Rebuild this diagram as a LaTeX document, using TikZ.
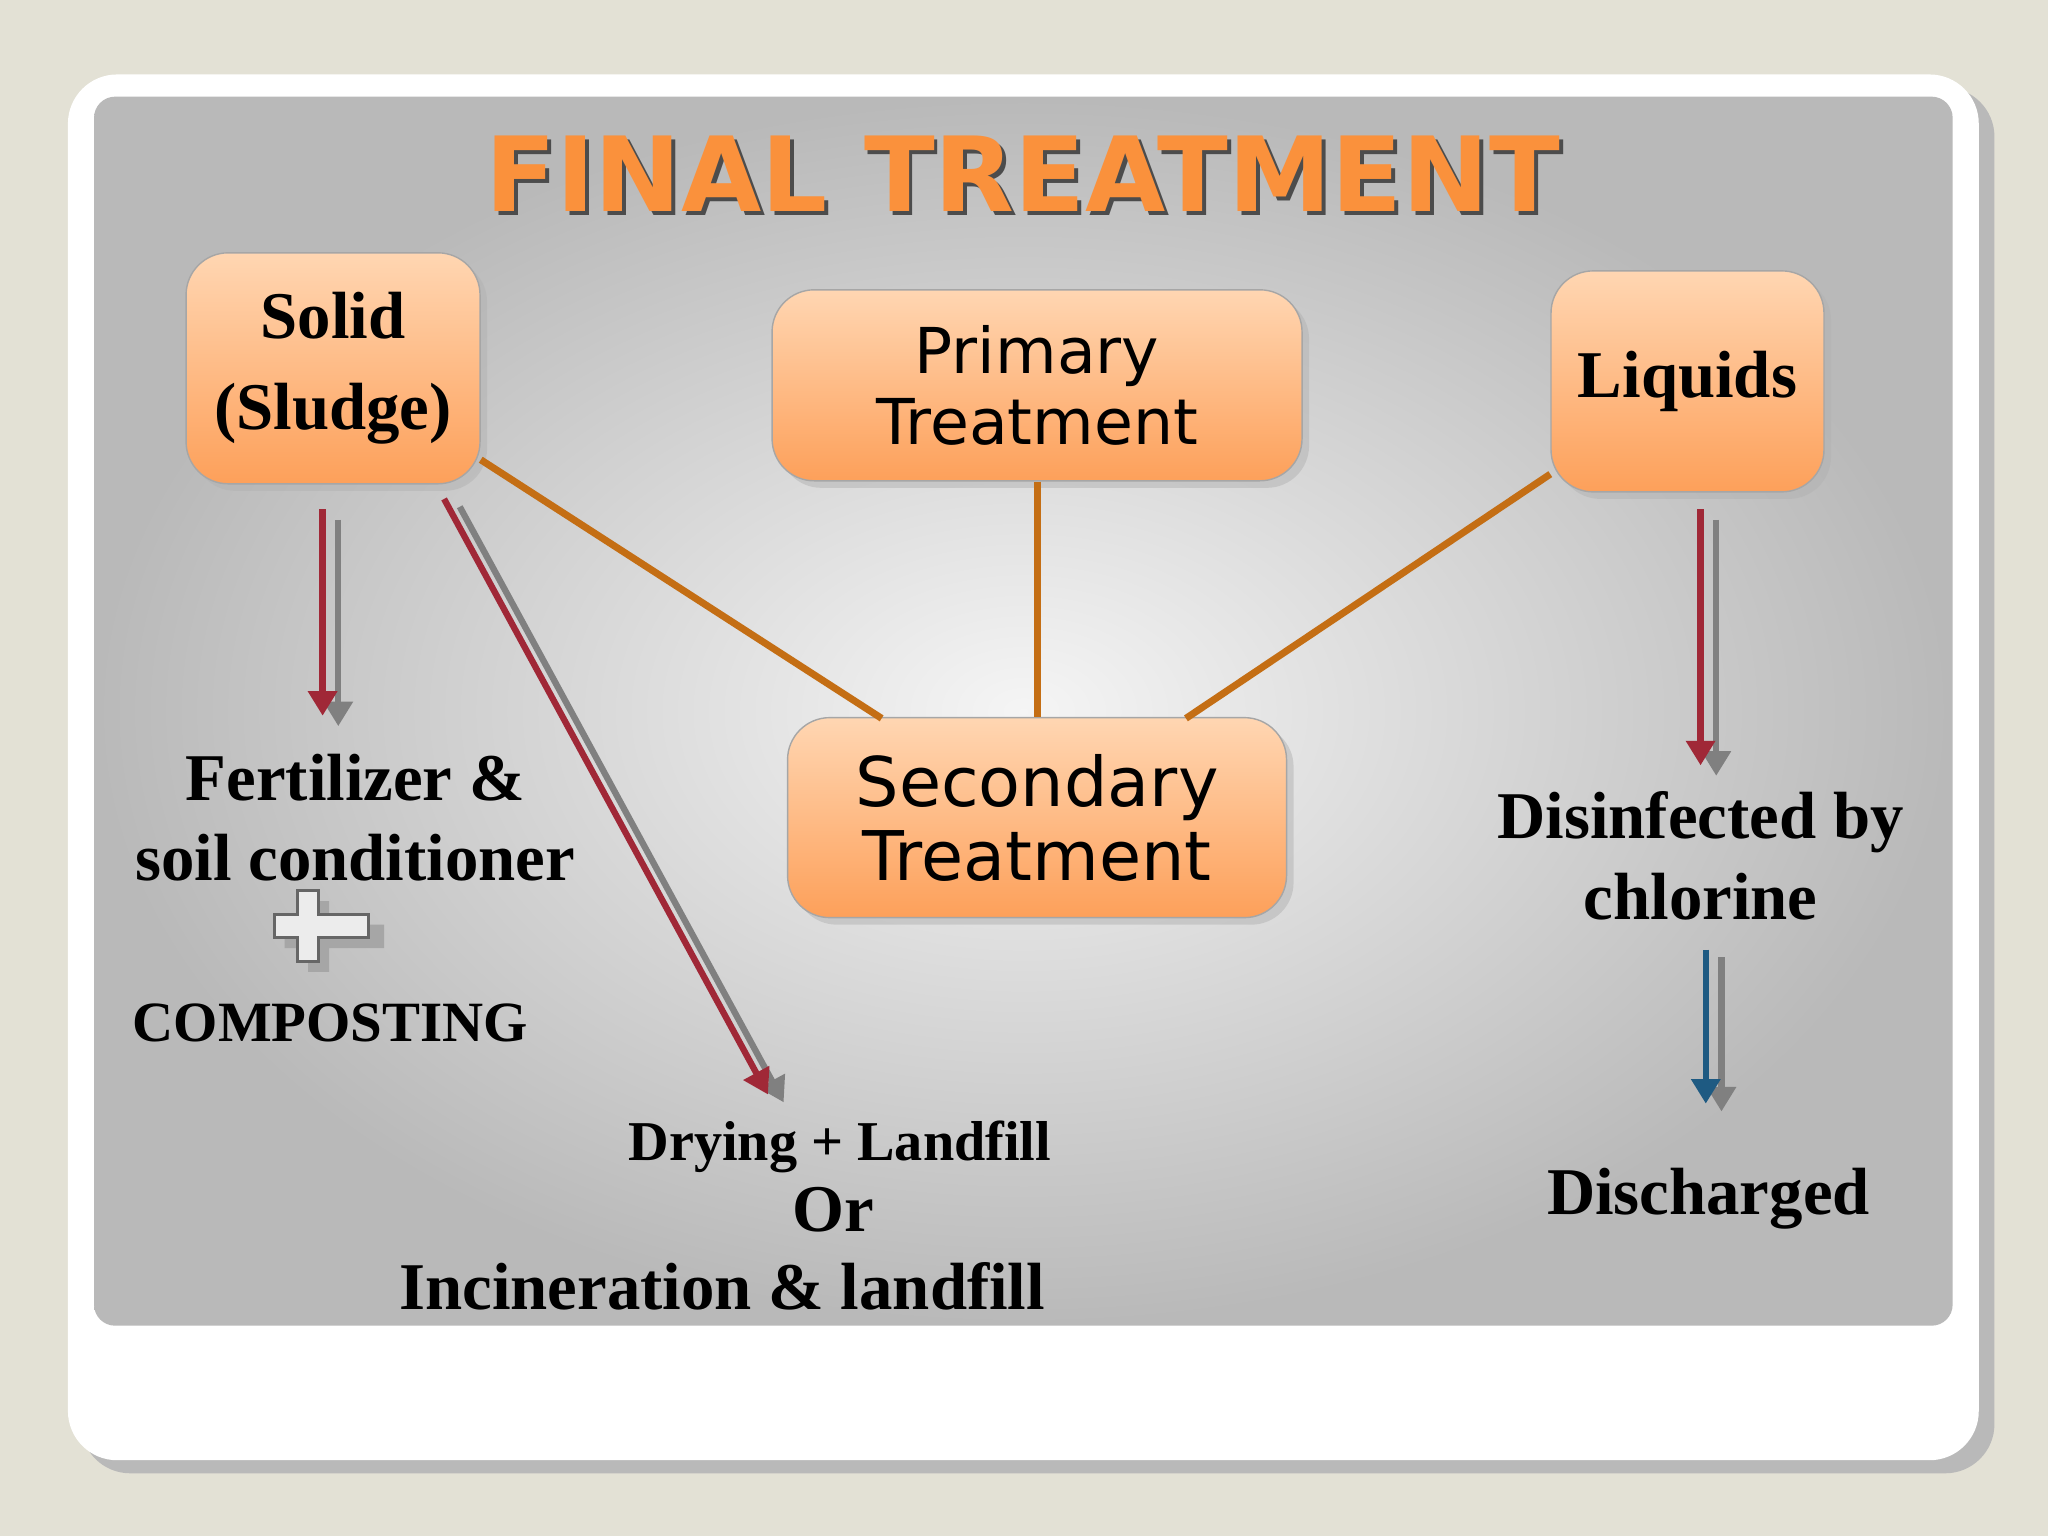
\documentclass[tikz,border=0pt]{standalone}
\usepackage{fontspec}
\setmainfont{Liberation Serif}
\newfontfamily\titlefont{DejaVu Sans}
\usetikzlibrary{shadows, arrows.meta, positioning}
\definecolor{pagebg}{RGB}{227, 225, 213}
\definecolor{boxtop}{RGB}{255, 214, 178}
\definecolor{boxbot}{RGB}{253, 160, 90}
\definecolor{linkcol}{RGB}{196, 110, 20}
\definecolor{arrred}{RGB}{160, 40, 55}
\definecolor{arrblue}{RGB}{30, 90, 130}
\definecolor{titleor}{RGB}{250, 145, 60}
\tikzset{
  box/.style={rectangle, rounded corners=12pt, draw=gray!70, thin, top color=boxtop, bottom color=boxbot, drop shadow={shadow xshift=2pt, shadow yshift=-2pt, fill=gray!60}, align=center},
  serifbox/.style={box, font=\fontsize{19}{26}\selectfont\bfseries},
  sansbox/.style={box, font=\titlefont\fontsize{18}{20}\selectfont},
  link/.style={linkcol, line width=2pt},
  flow/.style={line width=1.8pt, -{Triangle[length=7pt, width=8pt]}},
  label/.style={font=\fontsize{19}{23}\selectfont\bfseries, align=center}
}
\begin{document}
\begin{tikzpicture}[x=0.01306cm, y=-0.01306cm]
\useasboundingbox (0,0) rectangle (1568,1176);
\fill[pagebg] (0,0) rectangle (1568,1176);
% panels
\fill[gray!55, rounded corners=14pt] (62,67) rectangle (1527,1128);
\fill[white, rounded corners=14pt] (52,57) rectangle (1515,1118);
\shade[inner color=gray!8, outer color=gray!55, rounded corners=6pt] (72,74) rectangle (1495,1015);

% Title
\node[font=\titlefont\bfseries\fontsize{29.5}{34}\selectfont, text=black!70] at (786,136) {FINAL TREATMENT};
\node[font=\titlefont\bfseries\fontsize{29.5}{34}\selectfont, text=titleor] (title) at (783,133) {FINAL TREATMENT};

% Boxes
\node[serifbox, minimum width=2.94cm, minimum height=2.31cm] (solid) at (255,282) {Solid\\(Sludge)};
\node[sansbox, minimum width=5.3cm, minimum height=1.91cm] (primary) at (794,295) {Primary\\Treatment};
\node[serifbox, minimum width=2.73cm, minimum height=2.21cm] (liquids) at (1292,292) {Liquids};
\node[sansbox, font=\titlefont\fontsize{19.5}{21}\selectfont, minimum width=4.99cm, minimum height=2.0cm] (secondary) at (794,626) {Secondary\\Treatment};

% Links
\draw[link] (solid.east |- 0,352) -- (675,550);
\draw[link] (primary) -- (secondary);
\draw[link] (liquids.west |- 0,363) -- (908,550);

% Labels
\node[label] (fert) at (272,626) {Fertilizer \&\\soil conditioner};
\node[font=\fontsize{16.2}{20}\selectfont\bfseries] (compost) at (253,783) {COMPOSTING};
\node[font=\fontsize{16}{22}\selectfont\bfseries, align=center] (drying) at (643,878) {Drying + Landfill};
\node[font=\fontsize{19}{22}\selectfont\bfseries] (or) at (638,926) {Or};
\node[label] (incin) at (553,985) {Incineration \& landfill};
\node[label] (disinf) at (1302,655) {Disinfected by\\chlorine};
\node[label] (disch) at (1308,918) {Discharged};

% Plus sign
\fill[gray!70] (236,690) -- (252,690) -- (252,708) -- (294,708) -- (294,726) -- (252,726) -- (252,744) -- (236,744) -- (236,726) -- (218,726) -- (218,708) -- (236,708) -- cycle;
\draw[gray!80!black, fill=gray!15, line width=0.8pt] (228,682) -- (244,682) -- (244,700) -- (282,700) -- (282,718) -- (244,718) -- (244,736) -- (228,736) -- (228,718) -- (210,718) -- (210,700) -- (228,700) -- cycle;

% Arrows
\coordinate (a1) at (247,390); \coordinate (a2) at (247,548);
\coordinate (b1) at (340,382); \coordinate (b2) at (588,838);
\coordinate (c1) at (1302,390); \coordinate (c2) at (1302,586);
\coordinate (d1) at (1306,727); \coordinate (d2) at (1306,845);
\draw[flow, gray] ([shift={(12,8)}]a1) -- ([shift={(12,8)}]a2);
\draw[flow, arrred] (a1) -- (a2);
\draw[flow, gray] ([shift={(12,6)}]b1) -- ([shift={(12,6)}]b2);
\draw[flow, arrred] (b1) -- (b2);
\draw[flow, gray] ([shift={(12,8)}]c1) -- ([shift={(12,8)}]c2);
\draw[flow, arrred] (c1) -- (c2);
\draw[flow, gray] ([shift={(12,6)}]d1) -- ([shift={(12,6)}]d2);
\draw[flow, arrblue] (d1) -- (d2);
\end{tikzpicture}
\end{document}
